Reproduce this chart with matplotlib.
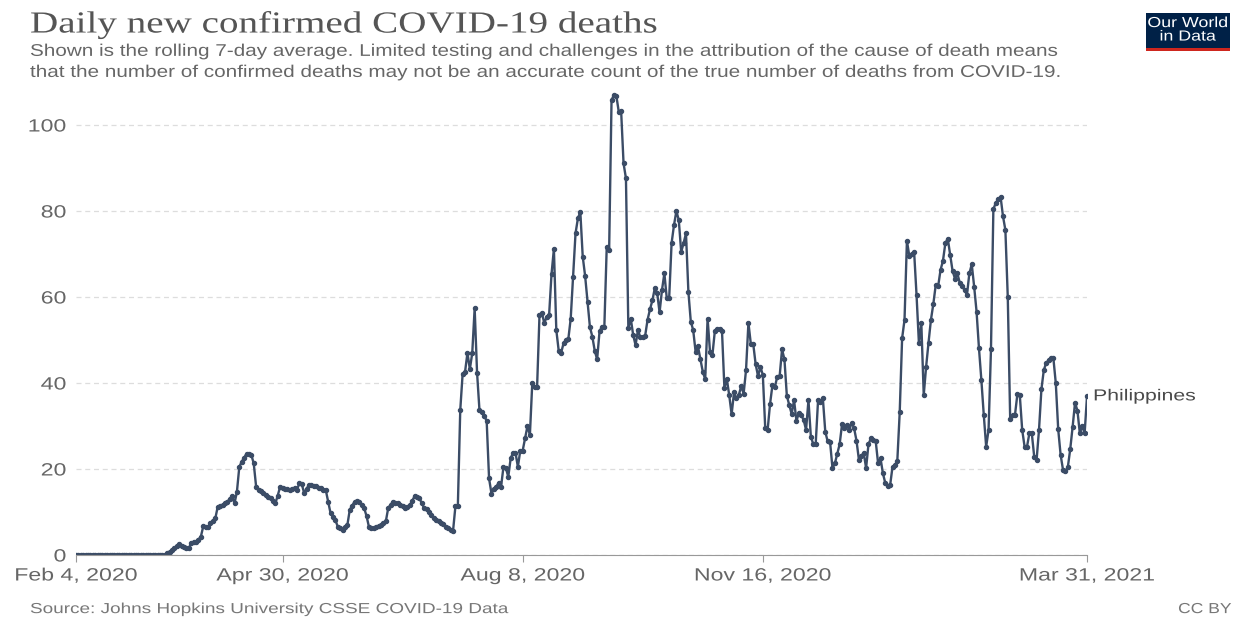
import pandas as pd
import matplotlib.pyplot as plt
from matplotlib import patheffects
from matplotlib.transforms import Affine2D

# 7-day rolling average of daily confirmed COVID-19 deaths, Philippines
# one value per day, starting Feb 4 2020
deaths = [0] * 38 + [
    0.4, 0.8, 1.2, 1.6, 2.0, 2.5, 2.2, 1.9, 1.6, 1.6,            # day 38
    2.9, 3.0, 3.1, 3.6, 4.3, 6.7, 6.6, 6.5, 7.4, 7.8,            # day 48
    8.5, 11.2, 11.4, 11.6, 12.0, 12.4, 13.0, 13.7, 12.0, 14.7,   # day 58
    20.5, 21.7, 22.6, 23.6, 23.5, 23.3, 21.3, 15.9, 15.0, 14.9,  # day 68
    14.4, 13.9, 13.6, 13.2, 12.6, 12.0, 13.8, 15.9, 15.6, 15.4,  # day 78
    15.3, 15.1, 15.4, 15.6, 15.1, 16.7, 16.5, 14.4, 15.4, 16.3,  # day 88
    16.2, 16.0, 16.1, 15.6, 15.5, 15.0, 15.1, 12.4, 9.7, 8.9,    # day 98
    8.1, 6.6, 6.2, 5.8, 6.4, 7.0, 10.5, 11.5, 12.4, 12.5,        # day 108
    12.4, 11.7, 10.9, 9.0, 6.5, 6.2, 6.2, 6.5, 6.8, 7.0,         # day 118
    7.4, 7.8, 10.9, 11.7, 12.4, 12.2, 12.0, 11.6, 11.3, 10.9,    # day 128
    11.2, 11.6, 12.6, 13.7, 13.5, 13.2, 12.0, 10.9, 10.6, 10.1,  # day 138
    9.3, 8.5, 8.2, 7.8, 7.4, 7.1, 6.6, 6.2, 5.8, 5.6,            # day 148
    11.4, 11.4, 33.7, 42.2, 42.6, 47.0, 43.2, 47.0, 57.4, 42.4,  # day 158
    33.7, 33.2, 32.3, 31.2, 17.8, 14.3, 15.3, 15.9, 16.8, 15.9,  # day 168
    20.5, 20.2, 18.2, 22.5, 23.8, 23.8, 20.5, 24.3, 24.3, 27.1,  # day 178
    30.0, 27.9, 40.1, 39.1, 39.1, 55.8, 56.3, 53.9, 55.4, 55.8,  # day 188
    65.3, 71.2, 52.3, 47.5, 47.0, 49.2, 50.0, 50.2, 55.0, 64.7,  # day 198
    74.8, 78.3, 79.8, 69.4, 64.9, 58.9, 53.0, 50.8, 47.5, 45.5,  # day 208
    52.0, 53.1, 53.0, 71.7, 70.9, 105.8, 107.0, 106.8, 103.1, 103.2,  # day 218
    91.1, 87.6, 52.7, 55.0, 51.2, 48.8, 52.3, 50.6, 50.8, 51.0,  # day 228
    54.7, 57.1, 59.2, 62.0, 61.0, 56.4, 61.6, 65.5, 59.7, 59.8,  # day 238
    72.5, 76.7, 80.0, 77.9, 70.5, 72.5, 74.8, 61.2, 54.3, 52.3,  # day 248
    47.3, 48.5, 45.5, 42.6, 40.9, 55.0, 47.3, 46.5, 52.0, 52.5,  # day 258
    52.5, 52.0, 38.8, 40.9, 37.2, 32.7, 37.8, 36.4, 37.2, 39.3,  # day 268
    37.5, 43.0, 54.0, 49.1, 49.1, 44.4, 41.6, 43.7, 41.9, 29.5,  # day 278
    29.1, 35.1, 39.5, 39.0, 41.5, 41.6, 47.8, 45.5, 37.0, 34.9,  # day 288
    32.8, 36.0, 31.2, 33.0, 32.5, 31.4, 29.1, 36.0, 27.5, 25.8,  # day 298
    25.7, 36.0, 35.6, 36.4, 28.7, 26.4, 26.3, 20.2, 21.3, 23.5,  # day 308
    25.8, 30.5, 29.6, 30.2, 29.0, 30.8, 29.5, 26.6, 22.2, 23.0,  # day 318
    23.8, 20.2, 25.8, 27.1, 26.7, 26.5, 21.3, 22.5, 19.0, 16.7,  # day 328
    16.0, 16.2, 20.5, 20.9, 21.9, 33.2, 50.4, 54.7, 73.1, 69.5,  # day 338
    70.0, 70.5, 60.5, 49.2, 53.9, 37.2, 43.8, 49.4, 54.7, 58.4,  # day 348
    62.8, 62.5, 66.3, 68.4, 72.5, 73.6, 69.8, 66.1, 64.3, 65.5,  # day 358
    63.3, 62.5, 61.6, 60.5, 65.5, 67.6, 62.4, 56.6, 48.1, 40.7,  # day 368
    32.6, 25.2, 29.1, 47.8, 80.4, 81.9, 82.7, 83.3, 78.8, 75.6,  # day 378
    59.9, 31.6, 32.6, 32.6, 37.4, 37.2, 29.1, 25.2, 25.2, 28.3,  # day 388
    28.3, 22.9, 22.1, 29.1, 38.5, 43.0, 44.7, 45.3, 45.7, 45.7,  # day 398
    39.9, 29.2, 23.3, 19.8, 19.5, 20.4, 24.6, 29.8, 35.4, 33.6,  # day 408
    28.3, 30.0, 28.3, 37.0,                                      # day 418
]
dates = pd.date_range('2020-02-04', periods=len(deaths), freq='D')

tick_dates = ['2020-02-04', '2020-04-30', '2020-08-08', '2020-11-16', '2021-03-31']
tick_labels = ['Feb 4, 2020', 'Apr 30, 2020', 'Aug 8, 2020', 'Nov 16, 2020', 'Mar 31, 2021']
y_ticks = [0, 20, 40, 60, 80, 100]

line_col = '#3b4c66'
grey = '#666666'


class Stretch(patheffects.AbstractPathEffect):
    """widen the glyphs horizontally, the reference text is drawn wide"""
    def __init__(self, sx, align='left'):
        super().__init__()
        self.sx = sx
        self.align = align

    def draw_path(self, renderer, gc, tpath, affine, rgbFace=None):
        ext = tpath.get_extents()
        if self.align == 'center':
            x0 = (ext.x0 + ext.x1) / 2
        elif self.align == 'right':
            x0 = ext.x1
        else:
            x0 = 0
        t = Affine2D().translate(-x0, 0).scale(self.sx, 1).translate(x0, 0) + affine
        renderer.draw_path(gc, tpath, t, rgbFace)


fig = plt.figure(figsize=(12.34, 6.19), dpi=100)
ax = fig.add_axes([0.0616, 0.1034, 0.8193, 0.7502])

ax.plot(dates, deaths, color=line_col, linewidth=1.7, marker='o', markersize=2.9)
ax.text(dates[-1] + pd.Timedelta(days=2.5), deaths[-1], 'Philippines', color='#4a4a4a',
        fontsize=11.5, family='Liberation Sans', va='center', ha='left',
        path_effects=[Stretch(1.33)])

ax.set_xlim(pd.Timestamp(tick_dates[0]), pd.Timestamp(tick_dates[-1]))
ax.set_ylim(0, 108)
ax.set_xticks(pd.to_datetime(tick_dates))
ax.set_xticklabels(tick_labels, fontsize=12.8, color=grey, family='Liberation Sans')
ax.set_yticks(y_ticks)
ax.set_yticklabels([str(v) for v in y_ticks], fontsize=12.8, color=grey, family='Liberation Sans')
for lab in ax.get_xticklabels():
    lab.set_path_effects([Stretch(1.3, 'center')])
for lab in ax.get_yticklabels():
    lab.set_path_effects([Stretch(1.3, 'right')])
ax.tick_params(axis='y', length=0, pad=7)
ax.tick_params(axis='x', length=5, color='#999999', pad=4)
ax.grid(axis='y', color='#dddddd', linestyle=(0, (4, 3)), linewidth=0.9)
ax.set_axisbelow(True)
for s in ['top', 'right', 'left']:
    ax.spines[s].set_visible(False)
ax.spines['bottom'].set_color('#999999')

# header
fig.text(0.0243, 0.96, 'Daily new confirmed COVID-19 deaths', fontsize=22, color='#555555',
         family='Liberation Serif', va='center', path_effects=[Stretch(1.28)])
fig.text(0.0243, 0.917, 'Shown is the rolling 7-day average. Limited testing and challenges in the '
         'attribution of the cause of death means', fontsize=12.2, color=grey,
         family='Liberation Sans', va='center', path_effects=[Stretch(1.222)])
fig.text(0.0243, 0.883, 'that the number of confirmed deaths may not be an accurate count of the '
         'true number of deaths from COVID-19.', fontsize=12.2, color=grey,
         family='Liberation Sans', va='center', path_effects=[Stretch(1.222)])

# footer
fig.text(0.0243, 0.016, 'Source: Johns Hopkins University CSSE COVID-19 Data', fontsize=10.5,
         color='#777777', family='Liberation Sans', va='center', path_effects=[Stretch(1.3)])
fig.text(0.998, 0.016, 'CC BY', fontsize=10.5, color='#777777', family='Liberation Sans',
         va='center', ha='right', path_effects=[Stretch(1.2, 'right')])

# logo
logo = fig.add_axes([1146 / 1234, 1 - 48 / 619, 84 / 1234, 35 / 619])
logo.set_facecolor('#002147')
logo.set_xticks([])
logo.set_yticks([])
for s in logo.spines.values():
    s.set_visible(False)
logo.text(0.5, 0.52, 'Our World\nin Data', color='white', fontsize=10.5, ha='center',
          va='center', family='Liberation Sans', linespacing=0.95, transform=logo.transAxes,
          path_effects=[Stretch(1.22, 'center')])
bar = fig.add_axes([1146 / 1234, 1 - 51 / 619, 84 / 1234, 3.5 / 619])
bar.set_facecolor('#ce261e')
bar.set_xticks([])
bar.set_yticks([])
for s in bar.spines.values():
    s.set_visible(False)

fig.savefig('out.png', dpi=100, facecolor='white')
